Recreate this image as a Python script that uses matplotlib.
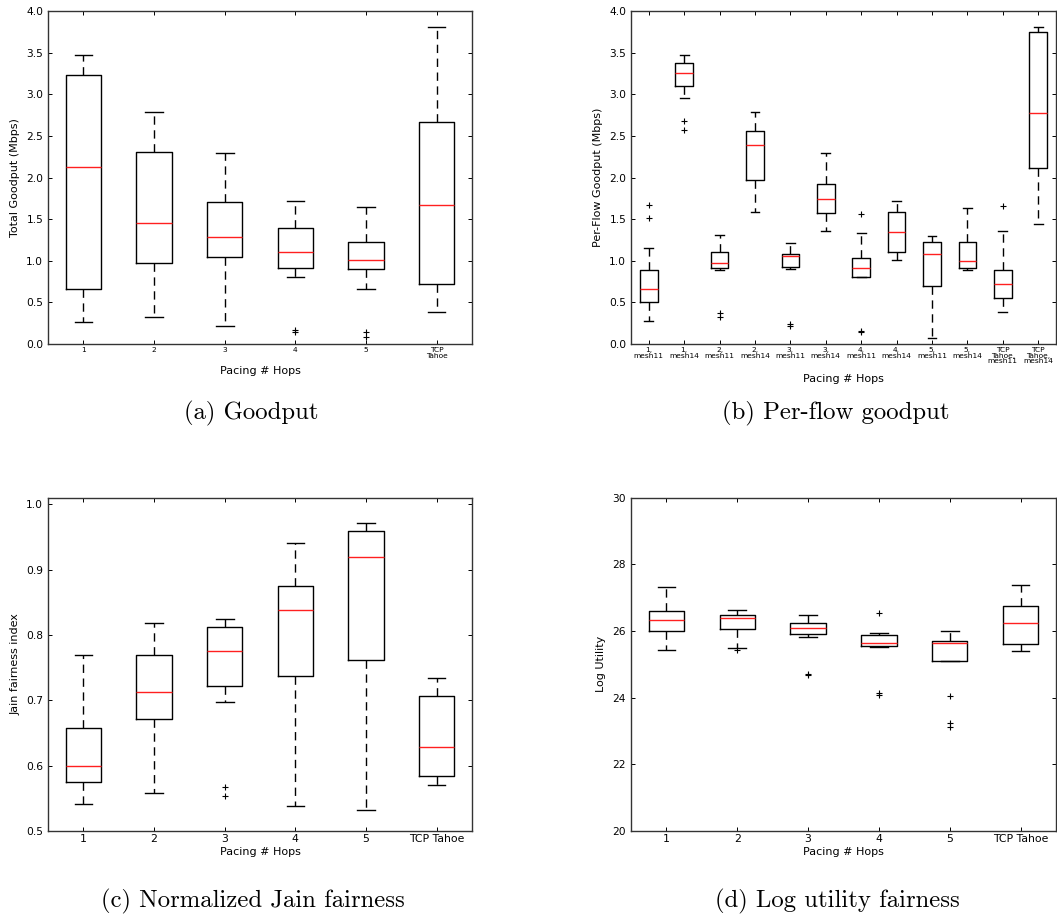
import matplotlib.pyplot as plt

plt.rcParams['font.family'] = 'DejaVu Sans'

## === (a) total goodput per hop setting ===
hop_lbl = ['1', '2', '3', '4', '5', 'TCP\nTahoe']
tot_lo  = [0.27, 0.32, 0.22, 0.81, 0.66, 0.38]
tot_q1  = [0.655, 0.97, 1.05, 0.915, 0.90, 0.715]
tot_med = [2.125, 1.45, 1.29, 1.105, 1.01, 1.665]
tot_q3  = [3.235, 2.31, 1.70, 1.395, 1.23, 2.67]
tot_hi  = [3.475, 2.79, 2.295, 1.72, 1.64, 3.805]
tot_out = [[], [], [], [0.165, 0.14], [0.145, 0.08], []]

## === (b) per-flow goodput ===
flow_lbl = ['1,\nmesh11', '1,\nmesh14', '2,\nmesh11', '2,\nmesh14',
            '3,\nmesh11', '3,\nmesh14', '4,\nmesh11', '4,\nmesh14',
            '5,\nmesh11', '5,\nmesh14', 'TCP\nTahoe,\nmesh11', 'TCP\nTahoe,\nmesh14']
flow_lo  = [0.275, 2.95, 0.883, 1.585, 0.903, 1.355, 0.803, 1.007, 0.072, 0.883, 0.384, 1.443]
flow_q1  = [0.50, 3.105, 0.911, 1.966, 0.923, 1.57, 0.803, 1.107, 0.691, 0.911, 0.555, 2.114]
flow_med = [0.659, 3.253, 0.975, 2.386, 1.055, 1.742, 0.915, 1.343, 1.079, 0.991, 0.719, 2.777]
flow_q3  = [0.891, 3.373, 1.103, 2.553, 1.079, 1.922, 1.031, 1.582, 1.231, 1.231, 0.891, 3.752]
flow_hi  = [1.159, 3.477, 1.315, 2.789, 1.215, 2.294, 1.331, 1.722, 1.295, 1.638, 1.359, 3.804]
flow_out = [[1.666, 1.51], [2.681, 2.573], [0.372, 0.324], [], [0.244, 0.22], [],
            [1.558, 0.16, 0.14], [], [], [], [1.662], []]

## === (c) Jain fairness index ===
jain_lbl = ['1', '2', '3', '4', '5', 'TCP Tahoe']
jain_lo  = [0.542, 0.558, 0.698, 0.539, 0.532, 0.570]
jain_q1  = [0.575, 0.671, 0.722, 0.737, 0.762, 0.584]
jain_med = [0.599, 0.713, 0.776, 0.838, 0.919, 0.629]
jain_q3  = [0.658, 0.770, 0.812, 0.875, 0.959, 0.707]
jain_hi  = [0.770, 0.818, 0.824, 0.941, 0.971, 0.734]
jain_out = [[], [], [0.567, 0.554], [], [], []]

## === (d) log utility ===
util_lo  = [25.43, 25.49, 25.81, 25.53, 25.10, 25.41]
util_q1  = [26.01, 26.07, 25.91, 25.54, 25.10, 25.60]
util_med = [26.32, 26.40, 26.10, 25.65, 25.65, 26.23]
util_q3  = [26.59, 26.47, 26.24, 25.87, 25.70, 26.76]
util_hi  = [27.31, 26.64, 26.47, 25.93, 26.01, 27.38]
util_out = [[], [25.42], [24.71, 24.67], [26.53, 24.15, 24.07], [24.06, 23.23, 23.11], []]


def mkstats(lo, q1, med, q3, hi, out):
    return [dict(whislo=a, q1=b, med=c, q3=d, whishi=e, fliers=f)
            for a, b, c, d, e, f in zip(lo, q1, med, q3, hi, out)]


def drawbox(ax, st, lbl, xfs, ylim, ylab, xlab_y, ylab_x):
    pos = range(1, len(st) + 1)
    ax.bxp(st, positions=pos, widths=0.5,
           boxprops=dict(color='k', linewidth=1.0),
           whiskerprops=dict(color='k', linewidth=1.0, linestyle=(0, (6, 4))),
           capprops=dict(color='k', linewidth=1.0),
           medianprops=dict(color='#ff2020', linewidth=1.0),
           flierprops=dict(marker='+', markeredgecolor='k', markersize=5,
                           markeredgewidth=0.8, linestyle='none'))
    ax.set_xlim(0.5, len(st) + 0.5)
    ax.set_ylim(*ylim)
    ax.set_xticks(list(pos))
    ax.set_xticklabels(lbl, fontsize=xfs, linespacing=0.95)
    ax.tick_params(direction='in', top=True, right=True, length=3, width=0.7)
    ax.tick_params(axis='x', pad=2)
    ax.tick_params(axis='y', labelsize=7.7, pad=3.5)
    ax.set_xlabel('Pacing # Hops', fontsize=8)
    ax.set_ylabel(ylab, fontsize=8)
    ax.xaxis.set_label_coords(0.5, xlab_y)
    ax.yaxis.set_label_coords(ylab_x, 0.5)
    for s in ax.spines.values():
        s.set_linewidth(1.0)
        s.set_color('#333333')


fig = plt.figure(figsize=(10.57, 9.17), dpi=100)
W, H = 1057.0, 917.0

axA = fig.add_axes([48 / W, 1 - 344 / H, 424 / W, 333 / H])
axB = fig.add_axes([631 / W, 1 - 344 / H, 425 / W, 333 / H])
axC = fig.add_axes([48 / W, 1 - 831 / H, 424 / W, 333.3 / H])
axD = fig.add_axes([631 / W, 1 - 831 / H, 425 / W, 333.3 / H])

drawbox(axA, mkstats(tot_lo, tot_q1, tot_med, tot_q3, tot_hi, tot_out), hop_lbl, 5.4,
        (0, 4), 'Total Goodput (Mbps)', -0.065, -0.066)
axA.set_yticks([0, 0.5, 1.0, 1.5, 2.0, 2.5, 3.0, 3.5, 4.0])

drawbox(axB, mkstats(flow_lo, flow_q1, flow_med, flow_q3, flow_hi, flow_out), flow_lbl, 5.4,
        (0, 4), 'Per-Flow Goodput (Mbps)', -0.089, -0.067)
axB.set_yticks([0, 0.5, 1.0, 1.5, 2.0, 2.5, 3.0, 3.5, 4.0])

drawbox(axC, mkstats(jain_lo, jain_q1, jain_med, jain_q3, jain_hi, jain_out), jain_lbl, 7.8,
        (0.5, 1.01), 'Jain fairness index', -0.048, -0.065)
axC.set_yticks([0.5, 0.6, 0.7, 0.8, 0.9, 1.0])

drawbox(axD, mkstats(util_lo, util_q1, util_med, util_q3, util_hi, util_out), jain_lbl, 7.8,
        (20, 30), 'Log Utility', -0.048, -0.059)
axD.set_yticks([20, 22, 24, 26, 28, 30])

## captions under each panel
capkw = dict(family='cmr10', fontsize=17.8, ha='center', va='center')
fig.text(251.7 / W, 1 - 413 / H, '(a) Goodput', **capkw)
fig.text(836 / W, 1 - 413 / H, '(b) Per-flow goodput', **capkw)
fig.text(252.5 / W, 1 - 901.7 / H, '(c) Normalized Jain fairness', **capkw)
fig.text(837 / W, 1 - 901.7 / H, '(d) Log utility fairness', **capkw)

fig.savefig('out.png', dpi=100, facecolor='white')
